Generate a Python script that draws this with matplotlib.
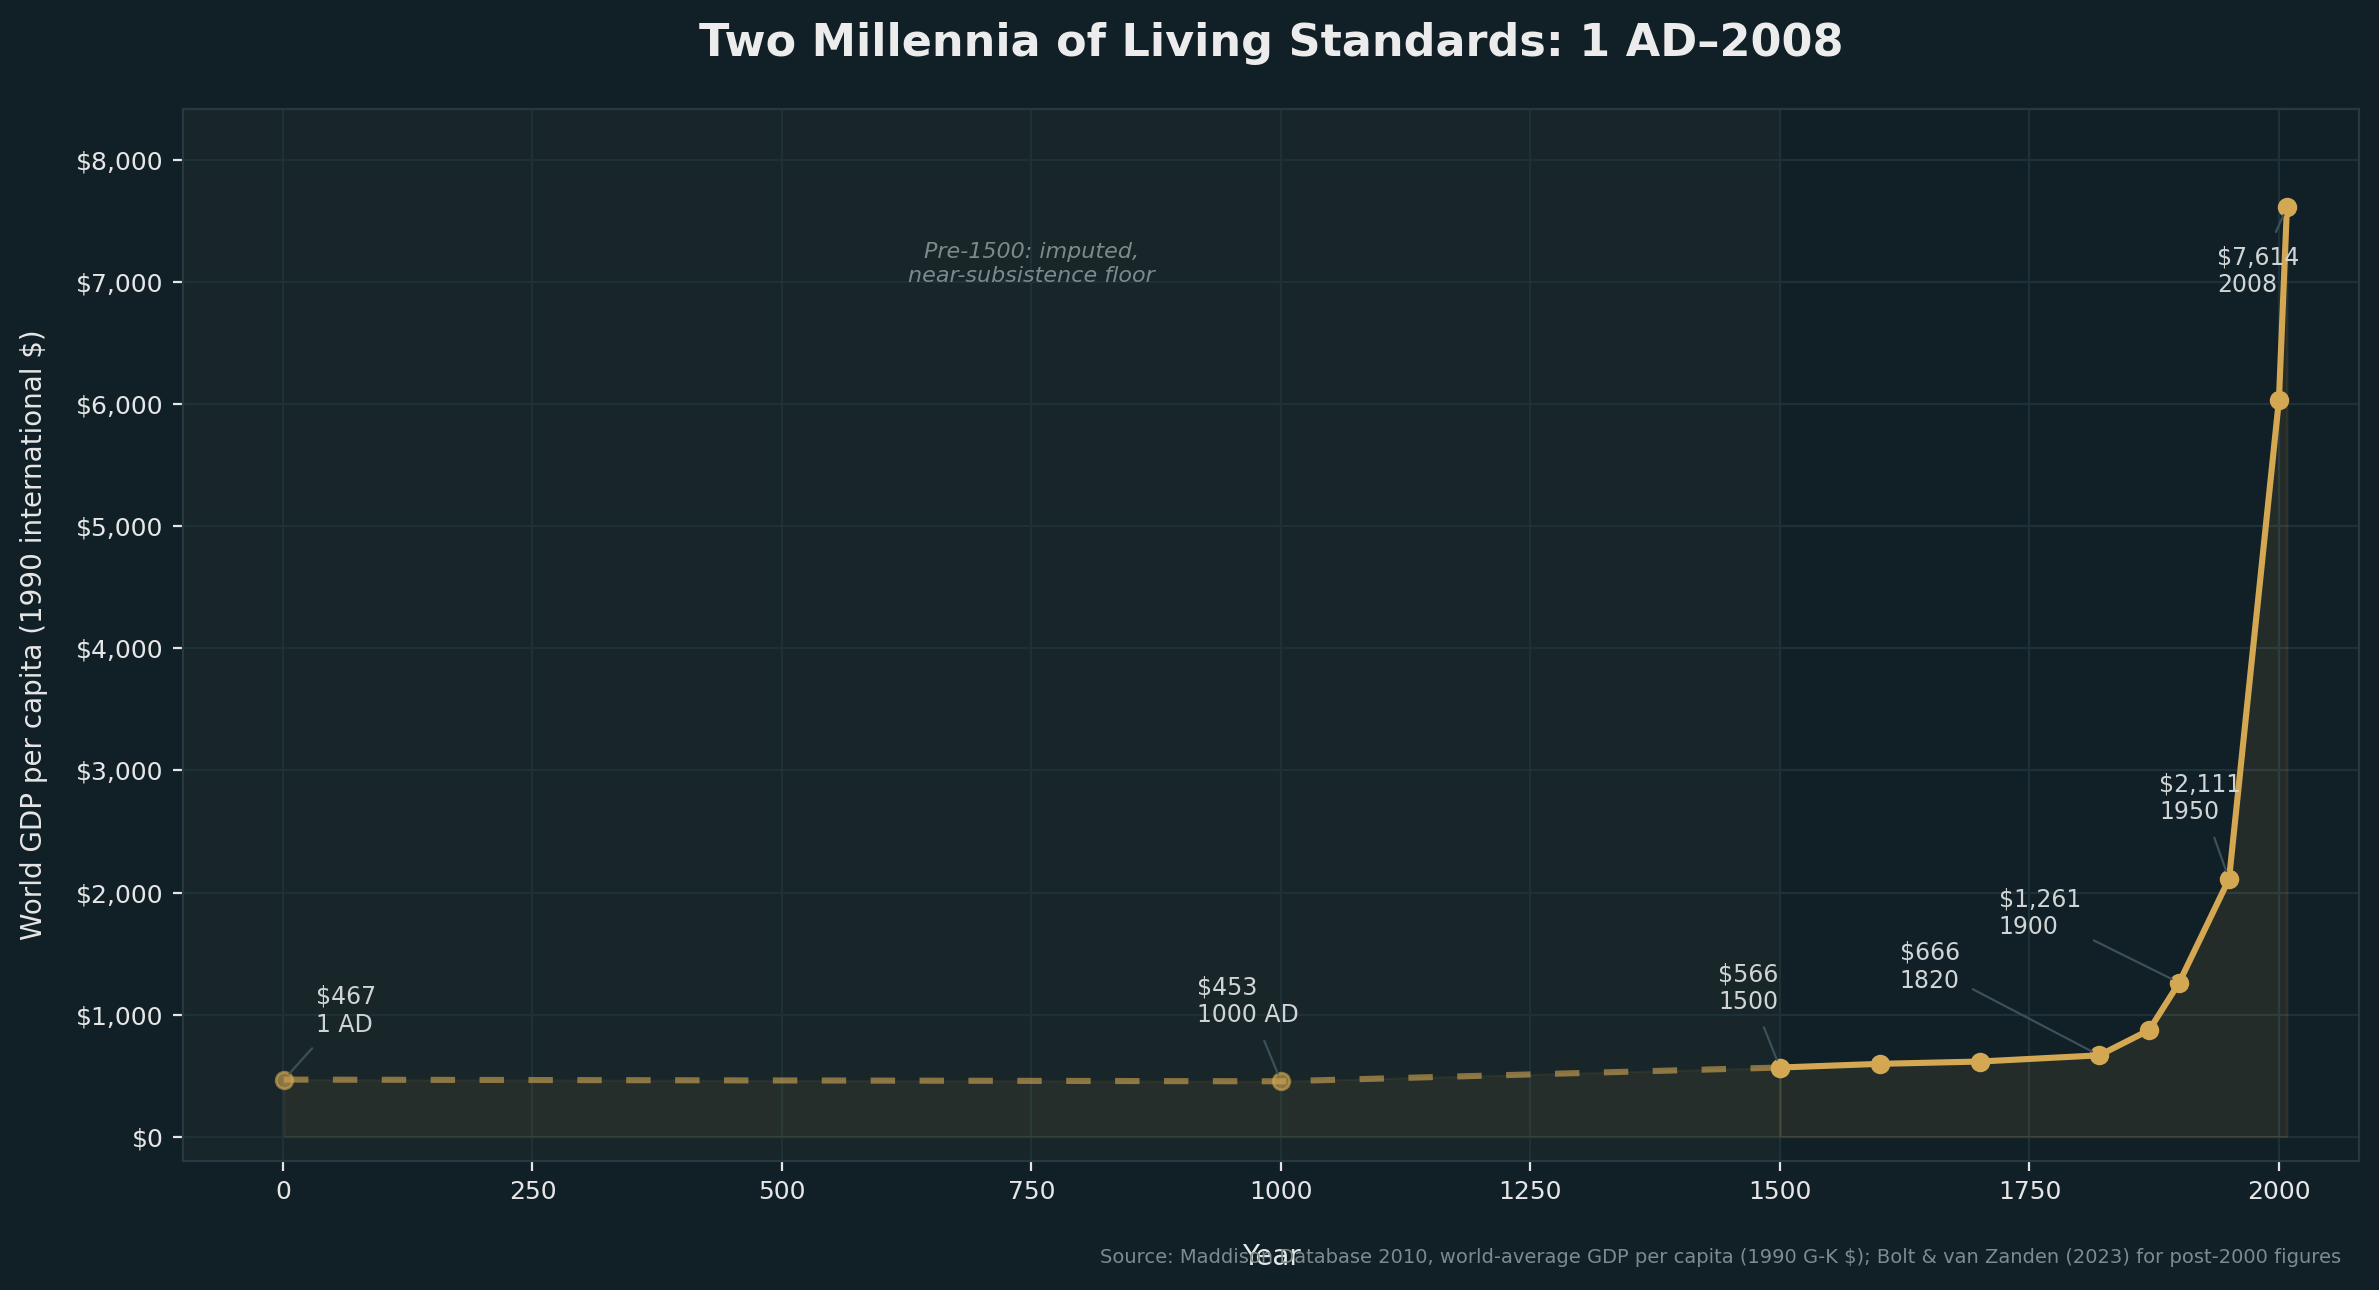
import matplotlib
matplotlib.use('Agg')
import matplotlib.pyplot as plt
from matplotlib.ticker import FuncFormatter

# World GDP per capita (1990 int. $), Maddison
years = [1, 1000, 1500, 1600, 1700, 1820, 1870, 1900, 1950, 2000, 2008]
gdp = [467, 453, 566, 596, 615, 666, 873, 1261, 2111, 6038, 7614]

# annotated points and where their labels sit
label_years = [1, 1000, 1500, 1820, 1900, 1950, 2008]
label_names = ['1 AD', '1000 AD', '1500', '1820', '1900', '1950', '2008']
label_pos = [(33, 820), (916, 895), (1438, 1005), (1620, 1180), (1719, 1615), (1880, 2560), (1938, 6880)]

bg = '#111f26'
gold = '#d4a853'

fig, ax = plt.subplots(figsize=(2379 / 200, 1290 / 200), dpi=200)
fig.patch.set_facecolor(bg)
ax.set_facecolor(bg)
fig.subplots_adjust(left=0.077, right=0.9915, top=0.9155, bottom=0.1)

# shaded pre-1500 zone
ax.axvspan(-100, 1500, color='#182529', zorder=0, lw=0)

pre = [i for i, y in enumerate(years) if y <= 1500]
post = [i for i, y in enumerate(years) if y >= 1500]
pre_x = [years[i] for i in pre]
pre_y = [gdp[i] for i in pre]
post_x = [years[i] for i in post]
post_y = [gdp[i] for i in post]

# area under the curve
ax.fill_between(pre_x, 0, pre_y, facecolor=gold, alpha=0.07, edgecolor=gold, lw=0.8, zorder=1)
ax.fill_between(post_x, 0, post_y, facecolor=gold, alpha=0.1, edgecolor=gold, lw=0.8, zorder=1)

# imputed part dashed and faded, the rest solid
ax.plot(pre_x, pre_y, color=gold, lw=2.2, ls=(0, (4, 4)), alpha=0.6,
        marker='o', markersize=6, zorder=3)
ax.plot(post_x, post_y, color=gold, lw=2.2, marker='o', markersize=6, zorder=4)

for yr, name, pos in zip(label_years, label_names, label_pos):
    val = gdp[years.index(yr)]
    ax.annotate(f'${val:,}\n{name}', xy=(yr, val), xytext=pos,
                ha='left', va='bottom', color='#d0d4d4', fontsize=8.5,
                arrowprops=dict(arrowstyle='-', color='#3b5058', lw=0.8,
                                shrinkA=3, shrinkB=3), zorder=5)

ax.text(750, 7150, 'Pre-1500: imputed,\nnear-subsistence floor', ha='center', va='center',
        fontsize=8, style='italic', color='#7c8a8b')

ax.set_xlim(-100, 2080)
ax.set_ylim(-200, 8420)
ax.set_xticks([0, 250, 500, 750, 1000, 1250, 1500, 1750, 2000])
ax.set_yticks(range(0, 8001, 1000))
ax.yaxis.set_major_formatter(FuncFormatter(lambda v, p: f'${v:,.0f}'))

ax.grid(True, color='#1e3139', lw=0.8)
ax.set_axisbelow(True)
for s in ax.spines.values():
    s.set_color('#263941')
ax.tick_params(colors='#e6e6e6', labelsize=9)

ax.set_title('Two Millennia of Living Standards: 1 AD\u20132008', fontsize=16, fontweight='bold',
             color='#ececec', pad=19)
ax.set_xlabel('Year', fontsize=10, color='#e6e6e6', labelpad=14)
ax.set_ylabel('World GDP per capita (1990 international $)', fontsize=10, color='#e6e6e6', labelpad=10)

fig.text(0.984, 0.018, 'Source: Maddison Database 2010, world-average GDP per capita (1990 G-K $); '
         'Bolt & van Zanden (2023) for post-2000 figures', ha='right', va='bottom',
         fontsize=7, color='#7d8a8e')

fig.savefig('out.png', dpi=200, facecolor=bg)
